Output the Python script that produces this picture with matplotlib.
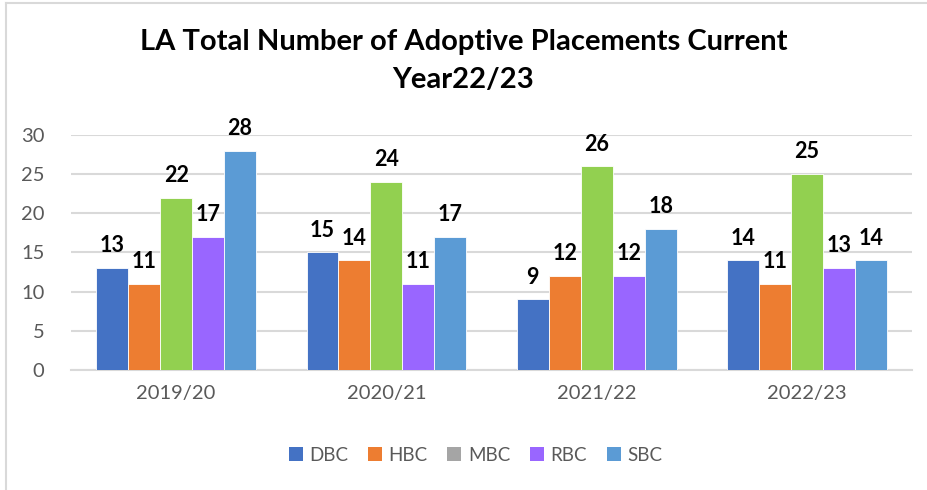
import numpy as np
import matplotlib
matplotlib.use('Agg')
import matplotlib.pyplot as plt
from matplotlib.patches import Patch
from matplotlib.lines import Line2D

plt.rcParams['font.family'] = ['Lato', 'DejaVu Sans']

years = ['2019/20', '2020/21', '2021/22', '2022/23']
series = ['DBC', 'HBC', 'MBC', 'RBC', 'SBC']
dbc = [13, 15, 9, 14]
hbc = [11, 14, 12, 11]
mbc = [22, 24, 26, 25]
rbc = [17, 11, 12, 13]
sbc = [28, 17, 18, 14]
values = [dbc, hbc, mbc, rbc, sbc]

bar_colors = ['#4472C4', '#ED7D31', '#92D050', '#9966FF', '#5B9BD5']
legend_colors = ['#4472C4', '#ED7D31', '#A5A5A5', '#9966FF', '#5B9BD5']

fig = plt.figure(figsize=(9.27, 4.9), dpi=100)
ax = fig.add_axes([0.0766, 0.245, 0.9074, 0.4795])

x = np.arange(len(years))
w = 0.152
for i, (vals, col) in enumerate(zip(values, bar_colors)):
    pos = x + (i - 2) * w
    bars = ax.bar(pos, vals, width=w, color=col, edgecolor='white', linewidth=0.6, zorder=3)
    for b, v in zip(bars, vals):
        ax.text(b.get_x() + b.get_width() / 2, v + 1.5, str(v), ha='center', va='bottom',
                fontsize=15.5, fontweight='bold', color='black')

ax.set_xlim(-0.5, 3.5)
ax.set_ylim(0, 30)
ax.set_yticks(range(0, 31, 5))
ax.set_xticks(x)
ax.set_xticklabels(years)
ax.grid(axis='y', color='#D9D9D9', linewidth=1.5, zorder=0)
for s in ['top', 'right', 'left']:
    ax.spines[s].set_visible(False)
ax.spines['bottom'].set_color('#D9D9D9')
ax.spines['bottom'].set_linewidth(1.5)
ax.tick_params(axis='both', length=0, labelsize=14.5, labelcolor='#595959')
ax.tick_params(axis='x', pad=11)
ax.tick_params(axis='y', pad=19)

fig.text(0.5, 0.94, 'LA Total Number of Adoptive Placements Current\nYear22/23', ha='center', va='top',
         fontsize=21, fontweight='bold', linespacing=1.55)

handles = [Patch(facecolor=c, label=s) for c, s in zip(legend_colors, series)]
fig.legend(handles=handles, loc='center', bbox_to_anchor=(0.513, 0.071), ncol=5, frameon=False,
           fontsize=13.5, labelcolor='#595959', handlelength=0.75, handleheight=0.75,
           handletextpad=0.35, columnspacing=1.05)

# chart border (left and top edges visible)
fig.add_artist(Line2D([0.0065, 0.0065], [0, 0.994], color='#D9D9D9', linewidth=1.5))
fig.add_artist(Line2D([0.0065, 1.0], [0.994, 0.994], color='#D9D9D9', linewidth=1.5))

fig.savefig('out.png', dpi=100)
